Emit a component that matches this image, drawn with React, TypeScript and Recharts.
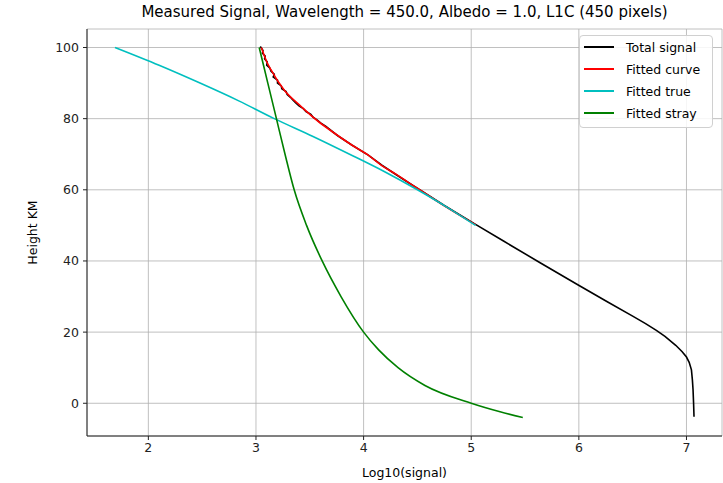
import React from 'react';
import { LineChart, Line, XAxis, YAxis, CartesianGrid } from 'recharts';

// Total signal (black) - noisy near the top
const totalX = [3.04, 3.065, 3.06, 3.085, 3.08, 3.105, 3.1, 3.13, 3.14, 3.17, 3.16, 3.2, 3.2, 3.235, 3.24, 3.28, 3.29, 3.32, 3.345, 3.37, 3.4, 3.44, 3.465, 3.51, 3.53, 3.57, 3.6, 3.65, 3.7, 3.76, 3.82, 3.89, 4.04, 4.17, 4.3, 4.48, 4.75, 5.04, 5.3, 5.64, 5.99, 6.26, 6.5, 6.62, 6.72, 6.8, 6.9, 6.96, 7.0, 7.025, 7.046, 7.055, 7.061, 7.066, 7.07];
const totalY = [100.3, 99.2, 98.4, 97.6, 96.8, 95.9, 95.0, 94.2, 93.3, 92.5, 91.7, 90.8, 90.0, 89.2, 88.4, 87.6, 86.8, 86.0, 85.2, 84.4, 83.6, 82.8, 82.0, 81.2, 80.4, 79.6, 78.8, 77.8, 76.6, 75.2, 74.0, 72.6, 69.8, 66.9, 64.3, 60.8, 55.6, 50.3, 45.6, 39.5, 33.3, 28.6, 24.5, 22.4, 20.5, 18.8, 16.3, 14.5, 13.0, 11.5, 9.4, 6.5, 3.8, 0, -3.8];

// Fitted curve (red)
const curveX = [3.05, 3.1, 3.14, 3.26, 3.42, 3.58, 3.73, 3.89, 4.04, 4.17, 4.3, 4.48, 4.75, 5.04];
const curveY = [100, 96, 93.7, 88.1, 83.4, 79.2, 75.9, 72.6, 69.8, 66.8, 64.4, 60.8, 55.5, 50.2];

// Fitted true (cyan)
const trueX = [1.69, 2.1, 2.48, 2.84, 3.17, 3.53, 3.87, 4.2, 4.5, 4.78, 5.04];
const trueY = [100, 95, 90, 85, 80, 75, 70, 65, 60, 55, 50];

// Fitted stray (green)
const strayX = [3.03, 3.11, 3.19, 3.27, 3.355, 3.47, 3.615, 3.79, 4.0, 4.14, 4.32, 4.57, 5.0, 5.268, 5.479];
const strayY = [100, 90, 80, 70, 60, 50, 40, 30, 20, 15, 10, 5, 0, -2.4, -4.0];

const xTicks = [2, 3, 4, 5, 6, 7];
const yTicks = [0, 20, 40, 60, 80, 100];

const toPoints = (xs: number[], ys: number[]) => xs.map((x, i) => ({ x, y: ys[i] }));

const series = [
  { name: 'Total signal', color: '#000000', data: toPoints(totalX, totalY), curve: 'linear' },
  { name: 'Fitted curve', color: '#ff0000', data: toPoints(curveX, curveY), curve: 'monotone' },
  { name: 'Fitted true', color: '#00bfbf', data: toPoints(trueX, trueY), curve: 'monotone' },
  { name: 'Fitted stray', color: '#008000', data: toPoints(strayX, strayY), curve: 'monotone' },
];

const FONT = '"DejaVu Sans", sans-serif';

function LegendBox() {
  return (
    <div
      style={{
        position: 'absolute',
        left: 579,
        top: 35,
        border: '1px solid #d0d0d0',
        borderRadius: 4,
        background: 'rgba(255,255,255,0.85)',
        padding: '0px 12px 3px 4px',
        fontFamily: FONT,
        fontSize: 12.5,
        color: '#000',
      }}
    >
      {series.map((s) => (
        <div key={s.name} style={{ display: 'flex', alignItems: 'center', height: 22 }}>
          <span style={{ display: 'inline-block', width: 30, height: 2, background: s.color, marginRight: 12 }} />
          <span>{s.name}</span>
        </div>
      ))}
    </div>
  );
}

export default function App() {
  const tickStyle = { fill: '#222', fontSize: 12.5, fontFamily: FONT };
  return (
    <div style={{ position: 'absolute', left: 0, top: 0, width: 723, height: 483, background: '#fff' }}>
      <div
        style={{
          position: 'absolute',
          left: 87,
          width: 635,
          top: 3,
          textAlign: 'center',
          fontFamily: FONT,
          fontSize: 15,
          color: '#000',
        }}
      >
        Measured Signal, Wavelength = 450.0, Albedo = 1.0, L1C (450 pixels)
      </div>
      <LineChart width={723} height={483} margin={{ top: 29, right: 1, left: 0, bottom: 0 }}>
        <CartesianGrid stroke="#b0b0b0" strokeWidth={0.8} />
        <XAxis
          type="number"
          dataKey="x"
          domain={[1.43, 7.33]}
          ticks={xTicks}
          allowDataOverflow
          height={47}
          tick={tickStyle}
          tickSize={4}
          tickMargin={3}
          stroke="#222"
          label={{ value: 'Log10(signal)', position: 'insideBottom', offset: 6, style: { fill: '#000', fontSize: 12.5, fontFamily: FONT } }}
        />
        <XAxis xAxisId="top" type="number" orientation="top" domain={[1.43, 7.33]} height={0} tick={false} tickLine={false} stroke="#222" />
        <YAxis
          type="number"
          dataKey="y"
          domain={[-9.2, 105.2]}
          ticks={yTicks}
          allowDataOverflow
          width={87}
          tick={tickStyle}
          tickSize={4}
          tickMargin={4}
          stroke="#222"
          label={{ value: 'Height KM', angle: -90, position: 'insideLeft', offset: 33, style: { fill: '#000', fontSize: 12.5, fontFamily: FONT, textAnchor: 'middle' } }}
        />
        <YAxis yAxisId="right" type="number" orientation="right" domain={[-9.2, 105.2]} width={0} tick={false} tickLine={false} stroke="#222" />
        {series.map((s) => (
          <Line
            key={s.name}
            data={s.data}
            dataKey="y"
            name={s.name}
            type={s.curve as 'linear' | 'monotone'}
            stroke={s.color}
            strokeWidth={1.6}
            dot={false}
            isAnimationActive={false}
          />
        ))}
      </LineChart>
      <LegendBox />
    </div>
  );
}
